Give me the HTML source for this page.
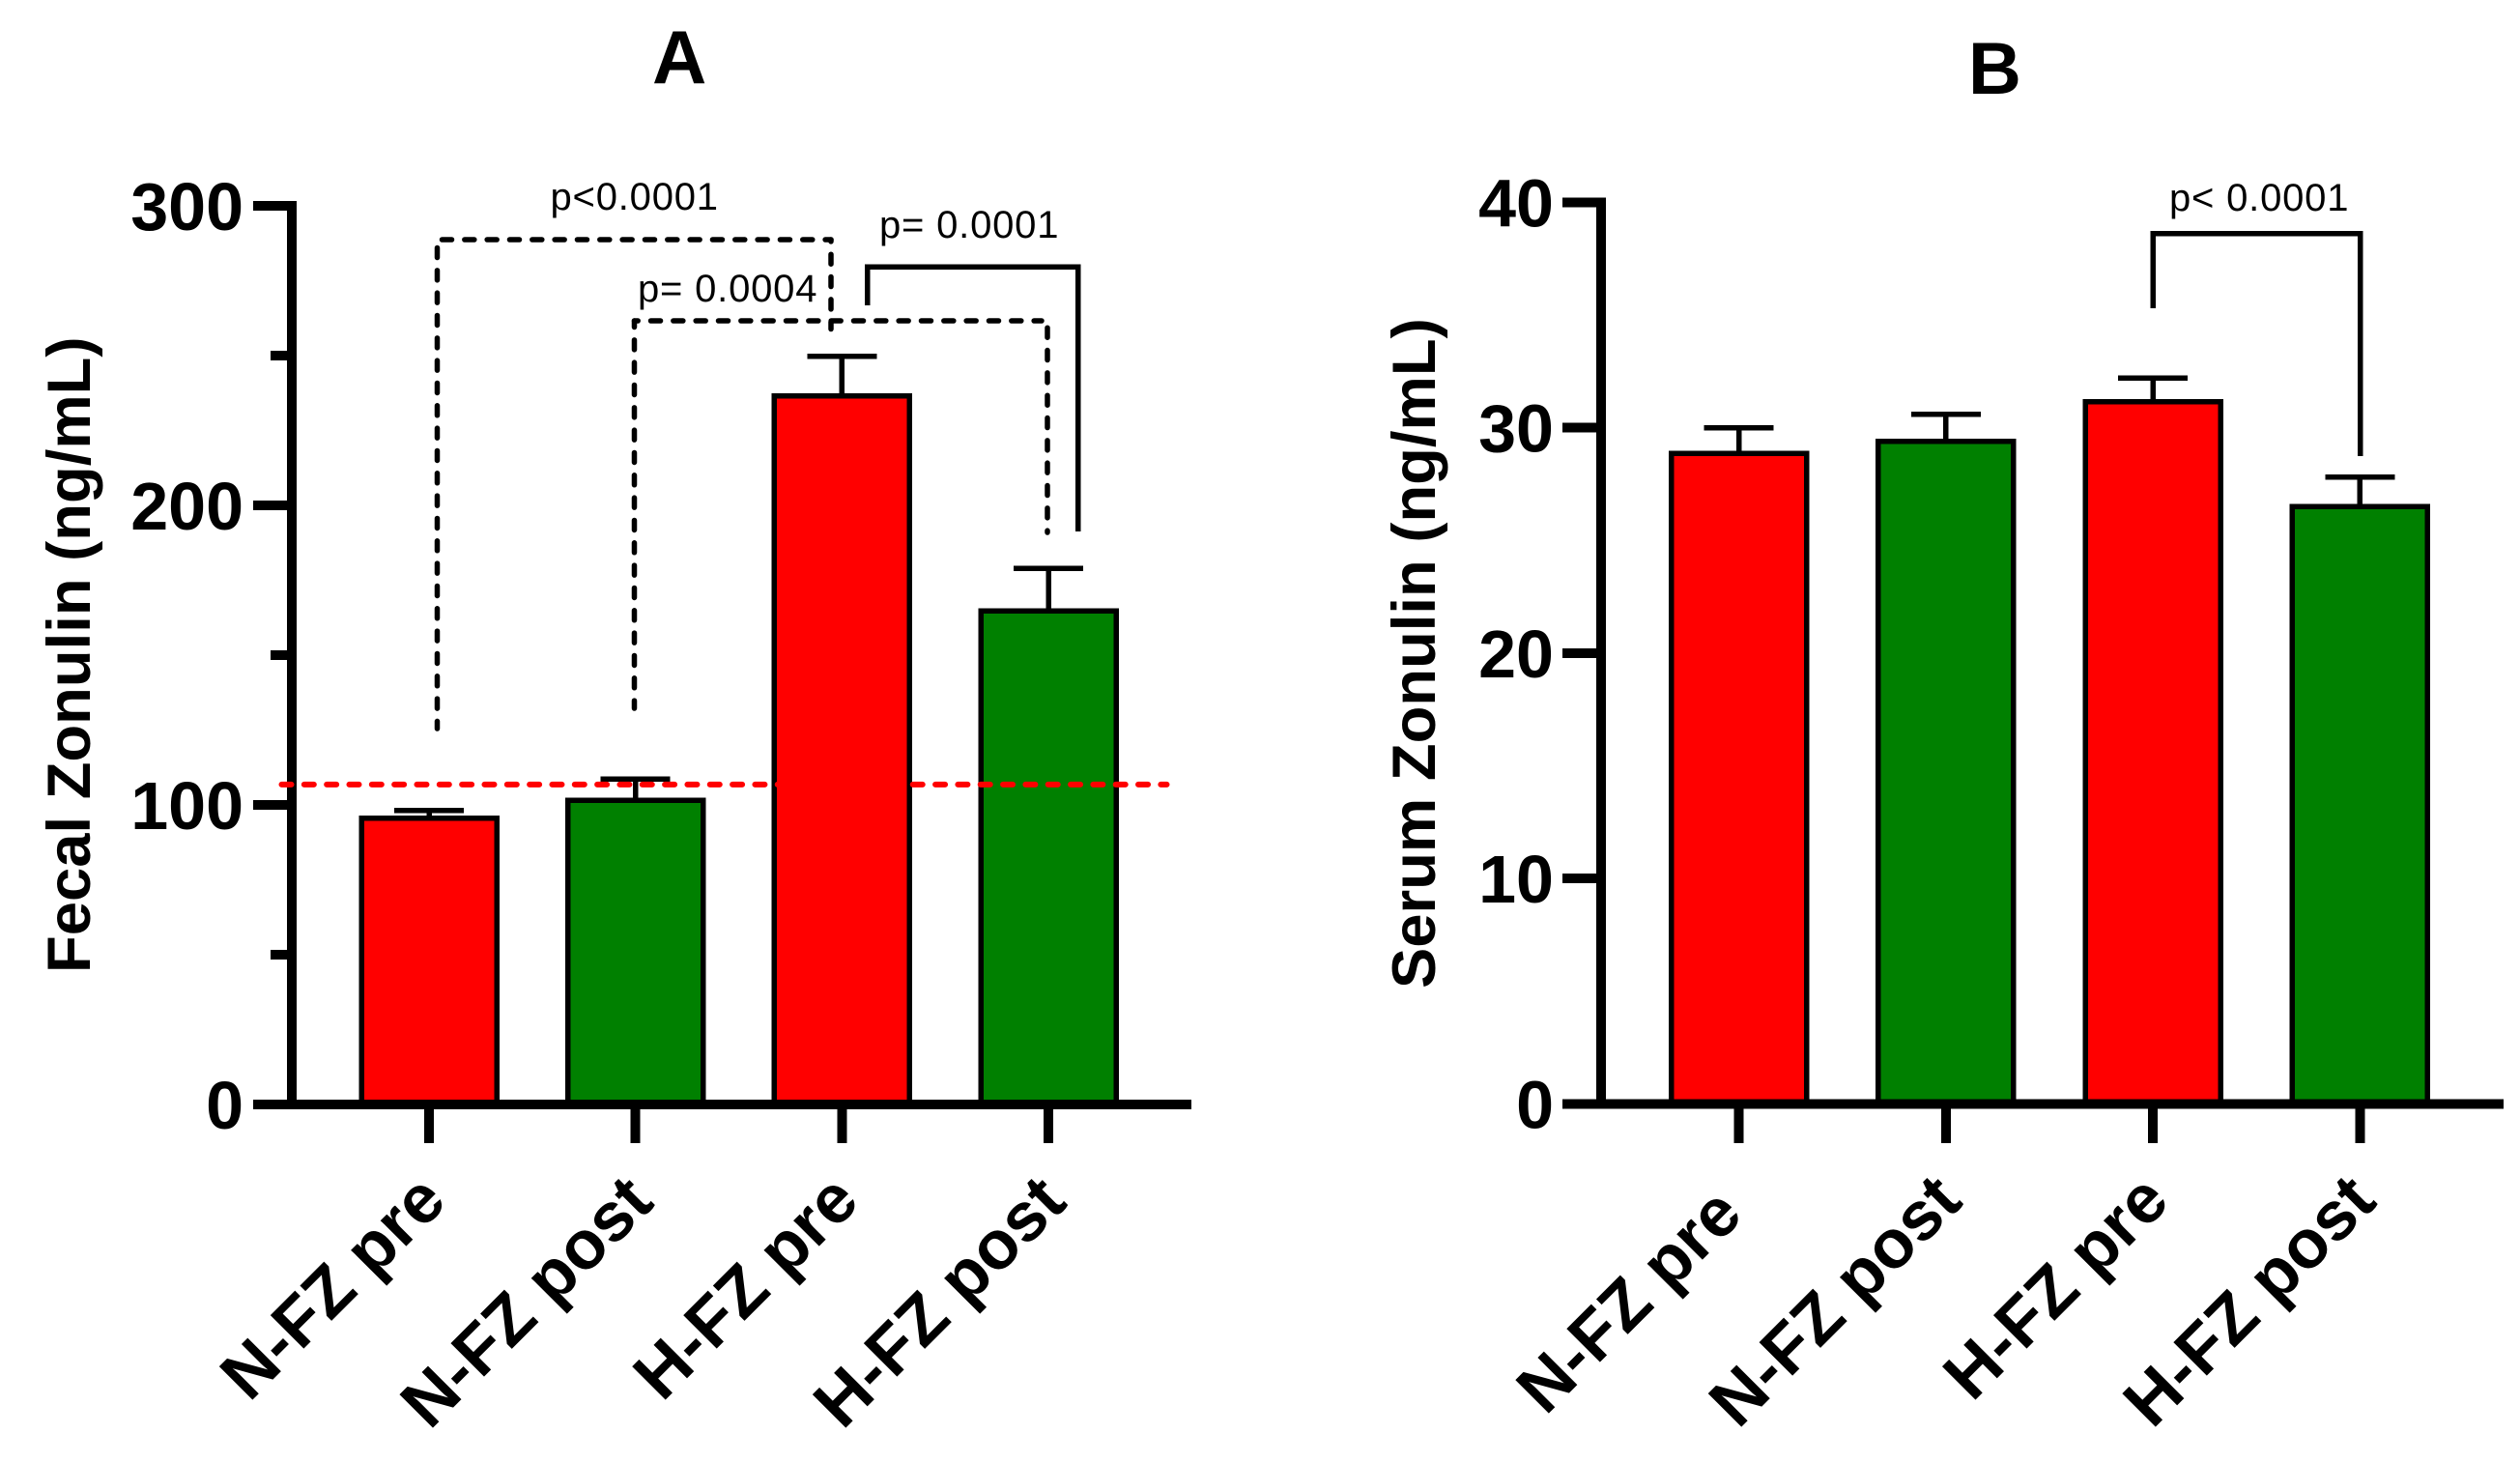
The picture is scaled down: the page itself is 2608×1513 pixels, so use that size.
<!DOCTYPE html>
<html lang="en">
<head>
<meta charset="utf-8">
<title>Fecal and Serum Zonulin</title>
<style>
html,body{margin:0;padding:0;background:#fff;}
svg{display:block;}
text{font-family:"Liberation Sans",Arial,sans-serif;fill:#000;}
.title{font-weight:700;}
.tick-label{font-weight:700;font-size:70px;text-anchor:end;}
.axis-title{font-weight:700;font-size:63.4px;}
.cat-label{font-weight:700;font-size:71px;}
.p-label{font-size:40px;letter-spacing:0.8px;}
.dash{fill:none;stroke:#000;stroke-width:5.5;stroke-linecap:round;stroke-dasharray:10 13.33;}
.solid{fill:none;stroke:#000;stroke-width:5.5;stroke-linejoin:miter;}
</style>
</head>
<body>
<svg id="figure" xmlns="http://www.w3.org/2000/svg" width="2608" height="1513" viewBox="0 0 2608 1513">
  <rect x="0" y="0" width="2608" height="1513" fill="#fff"/>
  <g id="panel-a"></g>
  <g id="panel-b"></g>

  <text class="title" x="675" y="86" font-size="78">A</text>
  <text class="title" x="2037" y="97" font-size="76">B</text>
  <text class="axis-title" transform="translate(93 1007) rotate(-90)">Fecal Zonulin (ng/mL)</text>
  <text class="axis-title" transform="translate(1485 1023) rotate(-90)">Serum Zonulin (ng/mL)</text>

  <g>
    <line class="dash" x1="457.5" y1="248" x2="860" y2="248"/>
    <line class="dash" x1="452.5" y1="256.5" x2="452.5" y2="754"/>
    <line class="dash" style="stroke-dashoffset:8.1" x1="860" y1="248" x2="860" y2="340.5"/>
    <text class="p-label" x="569.5" y="217">p&lt;0.0001</text>
  </g>
  <g>
    <line class="dash" style="stroke-dashoffset:6.3" x1="656.5" y1="332" x2="1078" y2="332"/>
    <line class="dash" style="stroke-dashoffset:3.5" x1="656.5" y1="332" x2="656.5" y2="733"/>
    <line class="dash" x1="1084" y1="339.2" x2="1084" y2="551"/>
    <text class="p-label" x="660" y="312">p= 0.0004</text>
  </g>
  <g>
    <path class="solid" d="M897.7 316V276H1115.5V550" shape-rendering="crispEdges"/>
    <text class="p-label" x="910" y="246">p= 0.0001</text>
  </g>
  <g>
    <path class="solid" d="M2228 319V241.7H2442.5V472" shape-rendering="crispEdges"/>
    <text class="p-label" x="2245" y="218">p&lt; 0.0001</text>
  </g>
</svg>

<script>
// ---- chart data ----
const categories = ['N-FZ pre', 'N-FZ post', 'H-FZ pre', 'H-FZ post'];
const barColors = ['#ff0000', '#008000', '#ff0000', '#008000'];

const fecalMeans = [95.5, 101.6, 236.5, 164.8];
const fecalErrors = [2.6, 7.1, 13.3, 14.2];
const fecalTicks = [0, 100, 200, 300];
const fecalMinorTicks = [50, 150, 250];
const fecalCutoff = [106.8];

const serumMeans = [28.85, 29.4, 31.15, 26.5];
const serumErrors = [1.15, 1.2, 1.05, 1.3];
const serumTicks = [0, 10, 20, 30, 40];

// ---- axis functions ----
function xFecal(i) { return 444 + i * 213.67; }
function yFecal(v) { return 1143 - v * 3.1; }
function xSerum(i) { return 1799.5 + i * 214.33; }
function ySerum(v) { return 1142.5 - v * 23.33; }

const NS = 'http://www.w3.org/2000/svg';
function make(tag, attrs, parent) {
  const node = document.createElementNS(NS, tag);
  for (const k in attrs) node.setAttribute(k, attrs[k]);
  parent.appendChild(node);
  return node;
}
function block(x0, y0, x1, y1, fill, parent) {
  return make('rect', {x: x0, y: y0, width: x1 - x0, height: y1 - y0, fill: fill, 'shape-rendering': 'crispEdges'}, parent);
}

function drawPanel(parent, key, x, y, means, errors, majorTicks, minorTicks, axisLeft, axisRight, tickLeft, tickMinorLeft, labelRight, labelStarts) {
  const barHalf = 70, capHalf = 36, lw = 5.5;

  means.forEach(function (m, i) {
    const cx = x(i);
    const top = y(m + errors[i]);
    const stem = block(cx - lw / 2, top, cx + lw / 2, y(m), '#000', parent);
    
    
    const cap = block(cx - capHalf, top - lw / 2, cx + capHalf, top + lw / 2, '#000', parent);
    
    
    const bar = make('rect', {
      x: cx - barHalf, y: y(m), width: barHalf * 2, height: y(0) - y(m),
      fill: barColors[i], stroke: '#000', 'stroke-width': lw, 'shape-rendering': 'crispEdges'
    }, parent);
    
    
  });

  const maxTick = majorTicks[majorTicks.length - 1];
  const yAxis = block(axisLeft, y(maxTick) - 5, axisLeft + 10, y(0) + 5, '#000', parent);
  
  
  const xAxis = block(tickLeft, y(0) - 5, axisRight, y(0) + 5, '#000', parent);
  
  

  majorTicks.forEach(function (t) {
    const tick = block(tickLeft, y(t) - 5, axisLeft + 1, y(t) + 5, '#000', parent);
    
    
    const label = make('text', {x: labelRight, y: y(t) + 25, 'class': 'tick-label'}, parent);
    label.textContent = String(t);
    
    
  });
  minorTicks.forEach(function (t) {
    const tick = block(tickMinorLeft, y(t) - 5, axisLeft + 1, y(t) + 5, '#000', parent);
    
    
  });

  categories.forEach(function (c, i) {
    const tick = block(x(i) - 5, y(0) + 5, x(i) + 5, 1183, '#000', parent);
    
    
    const s = labelStarts(i);
    const label = make('text', {'class': 'cat-label', transform: 'translate(' + s[0] + ' ' + s[1] + ') rotate(-45)'}, parent);
    label.textContent = c;
    
    
  });
}

function fecalLabelStart(i) {
  const isPost = categories[i].indexOf('post') >= 0;
  return [xFecal(i) - (isPost ? 213 : 186), isPost ? 1481 : 1452];
}
function serumLabelStart(i) {
  const isPost = categories[i].indexOf('post') >= 0;
  const isNormalPre = i === 0;
  return [xSerum(i) - (isPost ? 215 : (isNormalPre ? 200 : 187)), isPost ? 1480 : (isNormalPre ? 1466 : 1452)];
}

const panelA = document.getElementById('panel-a');
const panelB = document.getElementById('panel-b');

drawPanel(panelA, 'fecal', xFecal, yFecal, fecalMeans, fecalErrors, fecalTicks, fecalMinorTicks, 297, 1233, 262, 280, 252, fecalLabelStart);
drawPanel(panelB, 'serum', xSerum, ySerum, serumMeans, serumErrors, serumTicks, [], 1652, 2591, 1617, 1617, 1608, serumLabelStart);

const cutoffLine = make('line', {
  x1: 291.5, x2: 1207.5, y1: yFecal(fecalCutoff[0]), y2: yFecal(fecalCutoff[0]),
  stroke: '#ff0000', 'stroke-width': 6, 'stroke-linecap': 'round', 'stroke-dasharray': '10 13.33'
}, panelA);


</script>
</body>
</html>
